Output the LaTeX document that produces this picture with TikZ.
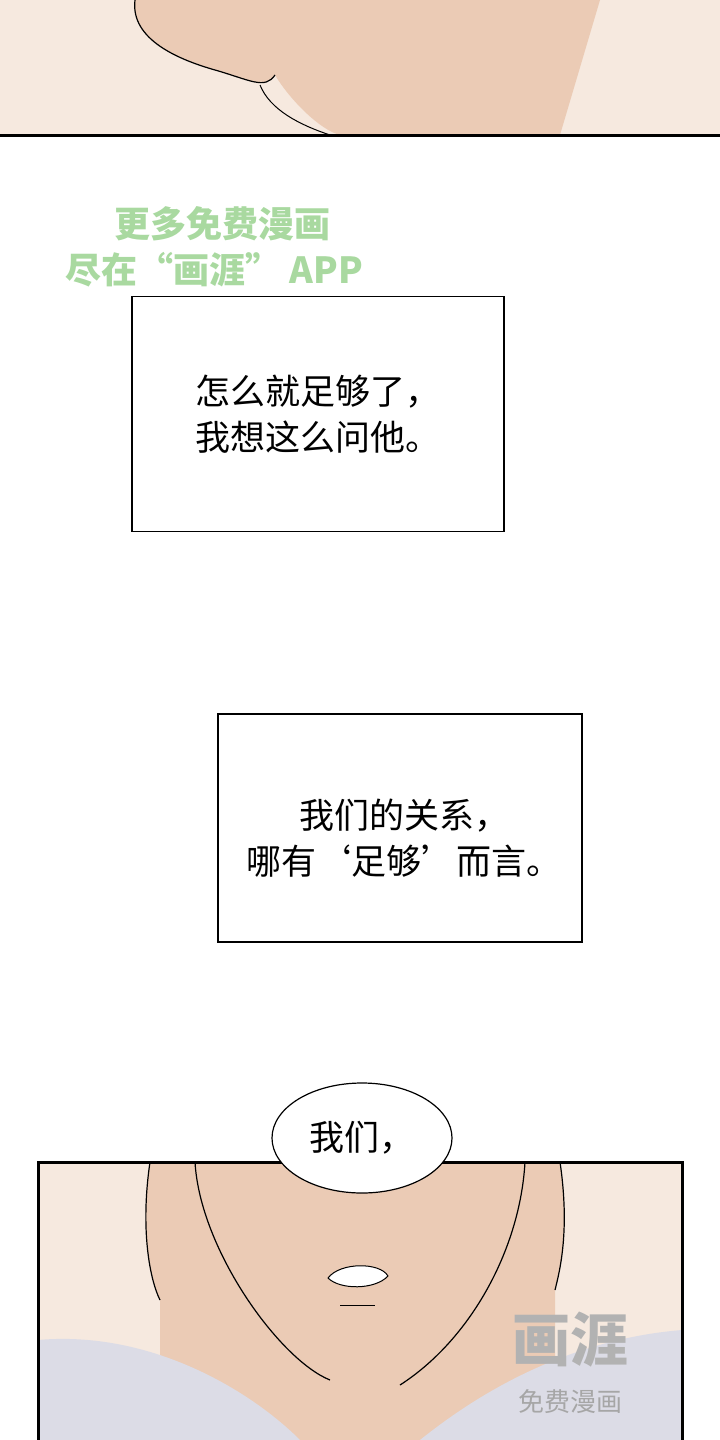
\documentclass[tikz,border=0pt]{standalone}
\usepackage{fontspec}
\newfontfamily\cjk{Noto Sans CJK SC}
\usetikzlibrary{shapes.geometric}
\definecolor{skin}{HTML}{EBCBB5}
\definecolor{skinlight}{HTML}{F6E9DF}
\definecolor{shade}{HTML}{C99E86}
\definecolor{mark}{HTML}{A9D9A0}
\definecolor{shirt}{HTML}{DCDCE6}
\tikzset{
  panel/.style={line width=3pt},
  caption/.style={draw,line width=1.2pt,fill=white},
  speech/.style={align=center,font=\cjk\fontsize{35}{46}\selectfont},
}
\begin{document}
\begin{tikzpicture}[x=1pt,y=-1pt]
\useasboundingbox (0,0) rectangle (720,1440);
% top panel
\fill[skinlight] (0,0) rectangle (720,135);
\fill[skin] (135,0) .. controls (130,40) and (180,60) .. (215,70) .. controls (250,80) and (265,90) .. (275,75) .. controls (290,100) and (320,130) .. (340,135) -- (560,135) -- (600,0) -- cycle;
\draw[line width=1.2pt] (135,0) .. controls (130,40) and (180,60) .. (215,70) .. controls (250,80) and (265,90) .. (275,75);
\draw[line width=1pt] (260,85) .. controls (270,110) and (300,125) .. (330,135);
\draw[panel] (0,135) -- (720,135);
% watermark
\node[text=mark,font=\cjk\bfseries\fontsize{36}{40}\selectfont] (wm1) at (222,224) {更多免费漫画};
\node[text=mark,font=\cjk\bfseries\fontsize{36}{40}\selectfont] (wm2) at (214,270) {尽在“画涯” APP};
% captions
\node[caption,minimum width=372pt,minimum height=235pt] (box1) at (318,414) {};
\node[speech] (txt1) at (box1) {怎么就足够了，\\我想这么问他。};
\node[caption,minimum width=364pt,minimum height=228pt] (box2) at (400,828) {};
\node[speech] (txt2) at (404,838) {我们的关系，\\哪有‘足够’而言。};
% bottom panel
\fill[skinlight] (38,1162) rectangle (682,1440);
\fill[skin] (150,1162) .. controls (140,1230) and (150,1280) .. (160,1300) -- (160,1440) -- (555,1440) -- (555,1290) .. controls (560,1270) and (570,1230) .. (560,1162) -- cycle;
\fill[shirt] (38,1340) .. controls (150,1330) and (250,1390) .. (300,1440) -- (38,1440) -- cycle;
\fill[shirt] (682,1330) .. controls (560,1340) and (470,1400) .. (420,1440) -- (682,1440) -- cycle;
\draw[line width=1.2pt] (195,1162) .. controls (200,1250) and (280,1360) .. (330,1380);
\draw[line width=1.2pt] (525,1162) .. controls (520,1250) and (470,1340) .. (400,1385);
\draw[line width=1.2pt] (150,1162) .. controls (140,1230) and (150,1280) .. (160,1300);
\draw[line width=1.2pt] (560,1162) .. controls (570,1230) and (560,1270) .. (555,1290);
\fill[white,draw=black,line width=1pt] (328,1278) .. controls (340,1262) and (380,1262) .. (388,1276) .. controls (375,1290) and (340,1290) .. cycle;
\draw[shade,line width=1pt] (340,1305) -- (375,1305);
\draw[panel] (38,1162) rectangle (682,1445);
\node[text=gray!60,font=\cjk\bfseries\fontsize{58}{60}\selectfont] (wm3) at (570,1340) {画涯};
\node[text=gray!70,font=\cjk\fontsize{26}{28}\selectfont] (wm4) at (570,1402) {免费漫画};
% bubble
\node[speech,ellipse,draw,fill=white,line width=1.2pt,minimum width=180pt,minimum height=110pt,inner sep=0pt] (bubble) at (362,1138) {我们，};
\end{tikzpicture}
\end{document}
